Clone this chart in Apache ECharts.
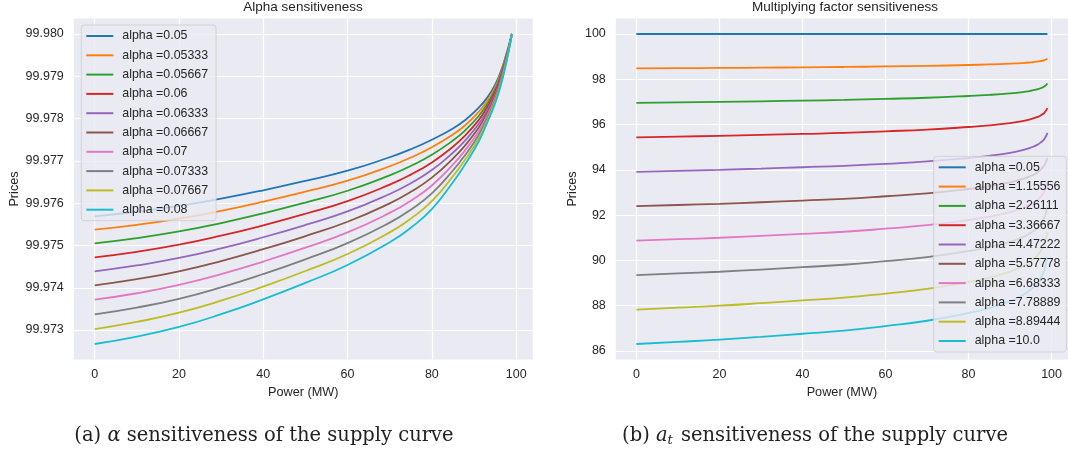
<!DOCTYPE html>
<html>
<head>
<meta charset="utf-8">
<title>Supply curve sensitiveness</title>
<script src="https://cdn.jsdelivr.net/npm/echarts@6/dist/echarts.min.js"></script>
<style>
  html, body { margin: 0; padding: 0; background: #fff; }
  #chart { width: 1068px; height: 455px; }
</style>
</head>
<body>
<div id="chart"></div>
<script>
var powerA = [0, 10, 20, 30, 40, 50, 60, 70, 75, 80, 85, 88, 91, 93, 95, 96.5, 97.5, 98.3, 99]
var powerB = [0, 10, 20, 30, 40, 50, 60, 70, 80, 85, 90, 93, 95, 96.5, 97.5, 98.3, 99]

// (a) alpha sensitiveness
var alphaNames = ['alpha =0.05', 'alpha =0.05333', 'alpha =0.05667', 'alpha =0.06', 'alpha =0.06333',
  'alpha =0.06667', 'alpha =0.07', 'alpha =0.07333', 'alpha =0.07667', 'alpha =0.08']
var alpha005 = [99.975689, 99.975797, 99.975935, 99.976107, 99.976305, 99.976525, 99.976767, 99.977086, 99.977275, 99.977500, 99.977767, 99.977974, 99.978245, 99.978478, 99.978797, 99.979155, 99.979465, 99.979741, 99.98]
var alpha05333 = [99.975372, 99.975487, 99.975635, 99.975820, 99.976034, 99.976271, 99.976532, 99.976873, 99.977079, 99.977324, 99.977623, 99.977852, 99.978146, 99.978399, 99.978737, 99.979112, 99.979437, 99.979727, 99.98]
var alpha05667 = [99.975051, 99.975174, 99.975331, 99.975530, 99.975760, 99.976015, 99.976294, 99.976659, 99.976880, 99.977146, 99.977480, 99.977731, 99.978049, 99.978322, 99.978680, 99.979072, 99.979411, 99.979714, 99.98]
var alpha006 = [99.974720, 99.974850, 99.975017, 99.975231, 99.975477, 99.975750, 99.976049, 99.976438, 99.976675, 99.976964, 99.977335, 99.977610, 99.977951, 99.978247, 99.978624, 99.979032, 99.979384, 99.979701, 99.98]
var alpha06333 = [99.974389, 99.974527, 99.974704, 99.974931, 99.975194, 99.975485, 99.975804, 99.976217, 99.976471, 99.976783, 99.977193, 99.977492, 99.977858, 99.978176, 99.978571, 99.978995, 99.979359, 99.979688, 99.98]
var alpha06667 = [99.974058, 99.974203, 99.974390, 99.974631, 99.974911, 99.975221, 99.975560, 99.975996, 99.976268, 99.976603, 99.977054, 99.977379, 99.977770, 99.978110, 99.978524, 99.978961, 99.979336, 99.979677, 99.98]
var alpha007 = [99.973717, 99.973870, 99.974067, 99.974322, 99.974620, 99.974948, 99.975308, 99.975770, 99.976059, 99.976419, 99.976913, 99.977265, 99.977682, 99.978046, 99.978478, 99.978927, 99.979313, 99.979665, 99.98]
var alpha07333 = [99.973372, 99.973532, 99.973739, 99.974010, 99.974325, 99.974673, 99.975055, 99.975540, 99.975847, 99.976233, 99.976773, 99.977153, 99.977596, 99.977985, 99.978434, 99.978897, 99.979291, 99.979654, 99.98]
var alpha07667 = [99.973024, 99.973192, 99.973409, 99.973694, 99.974028, 99.974396, 99.974799, 99.975309, 99.975634, 99.976047, 99.976635, 99.977044, 99.977514, 99.977928, 99.978395, 99.978868, 99.979272, 99.979644, 99.98]
var alpha008 = [99.972670, 99.972846, 99.973073, 99.973374, 99.973726, 99.974114, 99.974539, 99.975074, 99.975419, 99.975859, 99.976496, 99.976936, 99.977434, 99.977874, 99.978358, 99.978842, 99.979252, 99.979633, 99.98]

// (b) multiplying factor sensitiveness
var factorNames = ['alpha =0.05', 'alpha =1.15556', 'alpha =2.26111', 'alpha =3.36667', 'alpha =4.47222',
  'alpha =5.57778', 'alpha =6.68333', 'alpha =7.78889', 'alpha =8.89444', 'alpha =10.0']
var at0 = [100, 100, 100, 100, 100, 100, 100, 100, 100, 100, 100, 100, 100, 100, 100, 100, 100]
var at1 = [98.478, 98.489, 98.499, 98.513, 98.528, 98.543, 98.566, 98.592, 98.630, 98.655, 98.688, 98.717, 98.746, 98.775, 98.807, 98.843, 98.907]
var at2 = [96.956, 96.977, 96.999, 97.026, 97.056, 97.087, 97.133, 97.184, 97.260, 97.309, 97.376, 97.434, 97.492, 97.550, 97.614, 97.687, 97.814]
var at3 = [95.434, 95.466, 95.498, 95.539, 95.585, 95.630, 95.699, 95.776, 95.891, 95.964, 96.064, 96.151, 96.238, 96.324, 96.420, 96.530, 96.722]
var at4 = [93.912, 93.955, 93.997, 94.052, 94.113, 94.174, 94.265, 94.369, 94.521, 94.618, 94.752, 94.868, 94.983, 95.099, 95.227, 95.373, 95.629]
var at5 = [92.390, 92.443, 92.497, 92.565, 92.641, 92.717, 92.831, 92.961, 93.151, 93.273, 93.440, 93.585, 93.729, 93.874, 94.034, 94.216, 94.536]
var at6 = [90.868, 90.932, 90.996, 91.078, 91.169, 91.261, 91.398, 91.553, 91.781, 91.927, 92.128, 92.302, 92.475, 92.649, 92.841, 93.060, 93.443]
var at7 = [89.346, 89.421, 89.495, 89.591, 89.698, 89.804, 89.964, 90.145, 90.411, 90.582, 90.816, 91.019, 91.221, 91.424, 91.647, 91.903, 92.350]
var at8 = [87.824, 87.909, 87.994, 88.104, 88.226, 88.348, 88.530, 88.737, 89.042, 89.236, 89.504, 89.736, 89.967, 90.198, 90.454, 90.746, 91.258]
var at9 = [86.302, 86.398, 86.494, 86.617, 86.754, 86.891, 87.096, 87.329, 87.672, 87.891, 88.192, 88.453, 88.713, 88.973, 89.261, 89.590, 90.165]

// tick labels
var powerTicks = [0, 20, 40, 60, 80, 100]
var alphaPriceTicks = [99.973, 99.974, 99.975, 99.976, 99.977, 99.978, 99.979, 99.98]
var factorPriceTicks = [86, 88, 90, 92, 94, 96, 98, 100]

var colors = ['#1f77b4', '#ff7f0e', '#2ca02c', '#d62728', '#9467bd', '#8c564b', '#e377c2', '#7f7f7f', '#bcbd22', '#17becf']
var sans = "'Liberation Sans', Arial, sans-serif"
var serif = "'DejaVu Serif', serif"
var textColor = '#262626'

var alphaSeries = [alpha005, alpha05333, alpha05667, alpha006, alpha06333, alpha06667, alpha007, alpha07333, alpha07667, alpha008]
var factorSeries = [at0, at1, at2, at3, at4, at5, at6, at7, at8, at9]

function makeSeries(names, values, xs, idx) {
  return values.map(function(vals, i) {
    return {
      name: names[i],
      type: 'line',
      xAxisIndex: idx,
      yAxisIndex: idx,
      data: xs.map(function(x, k) { return [x, vals[k]] }),
      symbol: 'none',
      smooth: 0.5,
      color: colors[i],
      lineStyle: { width: 1.8, color: colors[i] },
      z: 2
    }
  })
}

function xAxisOpt(idx) {
  return {
    type: 'value',
    gridIndex: idx,
    min: -4.95,
    max: 103.95,
    name: 'Power (MW)',
    nameLocation: 'middle',
    nameGap: 26,
    nameTextStyle: { fontFamily: sans, fontSize: 12.7, color: textColor },
    axisLine: { show: false },
    axisTick: { show: false, customValues: powerTicks },
    axisLabel: { customValues: powerTicks, margin: 9, fontFamily: sans, fontSize: 12.5, color: textColor },
    splitLine: { show: true, lineStyle: { color: '#ffffff', width: 1.2 } }
  }
}

function yAxisOpt(idx, min, max, ticks, gap, digits) {
  return {
    type: 'value',
    gridIndex: idx,
    min: min,
    max: max,
    name: 'Prices',
    nameLocation: 'middle',
    nameGap: gap,
    nameRotate: 90,
    nameTextStyle: { fontFamily: sans, fontSize: 12.7, color: textColor },
    axisLine: { show: false },
    axisTick: { show: false, customValues: ticks },
    axisLabel: {
      customValues: ticks,
      margin: 10,
      fontFamily: sans,
      fontSize: 12.5,
      color: textColor,
      formatter: function(v) { return v.toFixed(digits) }
    },
    splitLine: { show: true, lineStyle: { color: '#ffffff', width: 1.2 } }
  }
}

function legendOpt(names, left, top, rightPad) {
  return {
    data: names,
    orient: 'vertical',
    left: left,
    top: top,
    itemWidth: 27,
    itemHeight: 14,
    itemGap: 7.3,
    padding: [5, rightPad, 5, 4],
    selectedMode: false,
    backgroundColor: 'rgba(234,234,242,0.8)',
    borderColor: 'rgba(204,204,204,0.8)',
    borderWidth: 1,
    borderRadius: 3,
    // only the line in the key, no marker
    itemStyle: { color: 'rgba(0,0,0,0)', borderWidth: 0, opacity: 0 },
    textStyle: { fontFamily: sans, fontSize: 12.4, color: textColor, padding: [0, 0, 0, 4] }
  }
}

function captionRich() {
  return {
    n: { fontFamily: serif, fontSize: 19.5, fontWeight: 'normal', color: '#222', lineHeight: 24 },
    it: { fontFamily: serif, fontSize: 19.5, fontWeight: 'normal', fontStyle: 'italic', color: '#222', lineHeight: 24 },
    sub: { fontFamily: serif, fontSize: 13, fontWeight: 'normal', fontStyle: 'italic', color: '#222', lineHeight: 24, padding: [10, 2, 0, 0] }
  }
}

var chart = echarts.init(document.getElementById('chart'), null, { renderer: 'canvas' })

var option = {
  animation: false,
  backgroundColor: '#ffffff',
  title: [
    {
      text: 'Alpha sensitiveness',
      left: 303,
      top: 0,
      padding: 0,
      textAlign: 'center',
      textStyle: { fontFamily: sans, fontSize: 13.5, fontWeight: 'normal', color: textColor }
    },
    {
      text: 'Multiplying factor sensitiveness',
      left: 845,
      top: 0,
      padding: 0,
      textAlign: 'center',
      textStyle: { fontFamily: sans, fontSize: 13.5, fontWeight: 'normal', color: textColor }
    },
    {
      text: '{n|(a) }{it|α}{n| sensitiveness of the supply curve}',
      left: 264,
      top: 424,
      padding: 0,
      textAlign: 'center',
      textStyle: { fontWeight: 'normal', rich: captionRich() }
    },
    {
      text: '{n|(b) }{it|a}{sub|t}{n| sensitiveness of the supply curve}',
      left: 815,
      top: 424,
      padding: 0,
      textAlign: 'center',
      textStyle: { fontWeight: 'normal', rich: captionRich() }
    }
  ],
  legend: [
    legendOpt(alphaNames, 81.3, 25, 8),
    legendOpt(factorNames, 933.7, 156.3, 6)
  ],
  grid: [
    { left: 73.8, top: 18.5, width: 459, height: 341, show: true, backgroundColor: '#eaeaf2', borderWidth: 0 },
    { left: 615.8, top: 18.5, width: 459.6, height: 341, show: true, backgroundColor: '#eaeaf2', borderWidth: 0 }
  ],
  xAxis: [xAxisOpt(0), xAxisOpt(1)],
  yAxis: [
    yAxisOpt(0, 99.9723035, 99.9803665, alphaPriceTicks, 53, 3),
    yAxisOpt(1, 85.617, 100.685, factorPriceTicks, 37, 0)
  ],
  series: makeSeries(alphaNames, alphaSeries, powerA, 0).concat(makeSeries(factorNames, factorSeries, powerB, 1))
}

chart.setOption(option, true)
</script>
</body>
</html>
